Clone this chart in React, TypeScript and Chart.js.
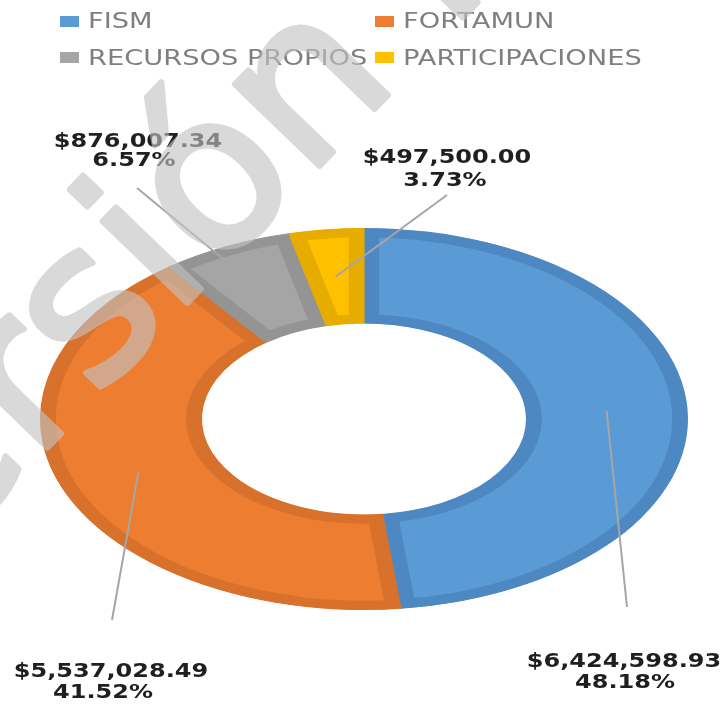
import React, { useEffect, useRef } from "react";
import { Chart, registerables } from "chart.js";

Chart.register(...registerables);

// ---------- data ----------
const categories = ["FISM", "FORTAMUN", "RECURSOS PROPIOS", "PARTICIPACIONES"];
const amounts = [6424598.93, 5537028.49, 876007.34, 497500.0];
const fillColors = ["#5B9BD5", "#ED7D31", "#A5A5A5", "#FFC000"];
const edgeColors = ["#4E88C2", "#D8712B", "#949494", "#E6AD00"];
const watermarkText = "Versión Pública";

// ---------- layout (style only) ----------
const W = 727;
const H = 704;
const CX = 364; // doughnut centre
const CY = 419;
const RY = 191; // vertical outer radius
const RX = 324; // horizontal outer radius
const SX = RX / RY;

// label anchors: line-1 centre/baseline, line-2 centre/baseline, leader end
const labelLayout = [
  { x1: 624, y1: 667, x2: 625, y2: 688, lx: 627, ly: 607 },
  { x1: 111, y1: 677, x2: 103, y2: 698, lx: 112, ly: 620 },
  { x1: 138, y1: 147, x2: 134, y2: 166, lx: 137, ly: 188 },
  { x1: 447, y1: 163, x2: 445, y2: 186, lx: 447, ly: 195 },
];
const legendCols = [{ sq: 60, tx: 88 }, { sq: 375, tx: 403 }];
const legendRows = [{ sq: 16, base: 28 }, { sq: 52, base: 65 }];
const watermarkAnchor = { x: 194, y: 296, angle: -46 };

const fmtMoney = (v: number) =>
  "$" + v.toLocaleString("en-US", { minimumFractionDigits: 2, maximumFractionDigits: 2 });

export default function App() {
  const ref = useRef<HTMLCanvasElement | null>(null);

  useEffect(() => {
    if (!ref.current) return;
    const total = amounts.reduce((a, b) => a + b, 0);

    const ellipsePlugin = {
      id: "ellipse",
      beforeDatasetsDraw(chart: any) {
        const ctx = chart.ctx;
        const el = chart.getDatasetMeta(0).data[0];
        const { x, y } = el.getProps(["x", "y"], true);
        ctx.save();
        ctx.translate(x, y);
        ctx.scale(SX, 1);
        ctx.translate(-x, -y);
      },
      afterDatasetsDraw(chart: any) {
        chart.ctx.restore();
      },
    };

    const overlayPlugin = {
      id: "overlay",
      afterDraw(chart: any) {
        const ctx = chart.ctx as CanvasRenderingContext2D;
        const meta = chart.getDatasetMeta(0);
        const labels = chart.data.labels as string[];
        const data = chart.data.datasets[0].data as number[];

        // legend
        labels.forEach((lab, i) => {
          const c = legendCols[i % 2];
          const r = legendRows[Math.floor(i / 2)];
          ctx.fillStyle = fillColors[i];
          ctx.fillRect(c.sq, r.sq, 19, 11);
          ctx.save();
          ctx.translate(c.tx, r.base);
          ctx.scale(1.3, 1);
          ctx.font = "21px 'DejaVu Sans'";
          ctx.fillStyle = "#7f7f7f";
          ctx.textAlign = "left";
          ctx.textBaseline = "alphabetic";
          ctx.fillText(lab, 0, 0);
          ctx.restore();
        });

        // leader lines
        meta.data.forEach((arc: any, i: number) => {
          const p = arc.getProps(["x", "y", "startAngle", "endAngle", "innerRadius", "outerRadius"], true);
          const mid = (p.startAngle + p.endAngle) / 2;
          const rm = (p.innerRadius + p.outerRadius) / 2;
          const sx = p.x + SX * rm * Math.cos(mid);
          const sy = p.y + rm * Math.sin(mid);
          const L = labelLayout[i];
          ctx.save();
          ctx.strokeStyle = "#a6a6a6";
          ctx.lineWidth = 2;
          ctx.beginPath();
          ctx.moveTo(sx, sy);
          ctx.lineTo(L.lx, L.ly);
          ctx.stroke();
          ctx.restore();
        });

        // data labels
        data.forEach((v, i) => {
          const L = labelLayout[i];
          const lines = [
            { t: fmtMoney(v), x: L.x1, y: L.y1 },
            { t: ((v / total) * 100).toFixed(2) + "%", x: L.x2, y: L.y2 },
          ];
          lines.forEach((ln) => {
            ctx.save();
            ctx.translate(ln.x, ln.y);
            ctx.scale(1.2, 1);
            ctx.font = "bold 20px 'DejaVu Sans'";
            ctx.fillStyle = "#1f1f1f";
            ctx.textAlign = "center";
            ctx.textBaseline = "alphabetic";
            ctx.fillText(ln.t, 0, 0);
            ctx.restore();
          });
        });

        // watermark (drawn opaque offscreen, composited translucent)
        const off = document.createElement("canvas");
        off.width = W;
        off.height = H;
        const o = off.getContext("2d") as CanvasRenderingContext2D;
        o.font = "215px 'DejaVu Sans'";
        const pre = o.measureText("Vers").width + o.measureText("i").width / 2;
        const a = (watermarkAnchor.angle * Math.PI) / 180;
        o.translate(watermarkAnchor.x - pre * Math.cos(a), watermarkAnchor.y - pre * Math.sin(a));
        o.rotate(a);
        o.fillStyle = "rgb(194,194,194)";
        o.strokeStyle = "rgb(194,194,194)";
        o.lineWidth = 6;
        o.lineJoin = "round";
        o.textAlign = "left";
        o.textBaseline = "alphabetic";
        o.fillText(watermarkText, 0, 0);
        o.strokeText(watermarkText, 0, 0);
        ctx.save();
        ctx.globalAlpha = 0.62;
        ctx.drawImage(off, 0, 0);
        ctx.restore();
      },
    };

    const chart = new Chart(ref.current, {
      type: "doughnut",
      data: {
        labels: categories,
        datasets: [
          {
            data: amounts,
            backgroundColor: fillColors,
            borderColor: edgeColors,
            borderWidth: 9,
            borderAlign: "inner",
            clip: false,
          } as any,
        ],
      },
      options: {
        responsive: false,
        animation: false,
        devicePixelRatio: 1,
        radius: RY,
        cutout: "50%",
        layout: { padding: { left: 2 * CX - W, right: 0, top: 2 * CY - H, bottom: 0 } },
        plugins: {
          legend: { display: false },
          tooltip: { enabled: false },
        },
        events: [],
      } as any,
      plugins: [ellipsePlugin, overlayPlugin],
    });

    return () => chart.destroy();
  }, []);

  return (
    <div style={{ position: "fixed", left: 0, top: 0, width: W, height: H, background: "#fff" }}>
      <canvas ref={ref} width={W} height={H} style={{ width: W, height: H, display: "block" }} />
    </div>
  );
}
